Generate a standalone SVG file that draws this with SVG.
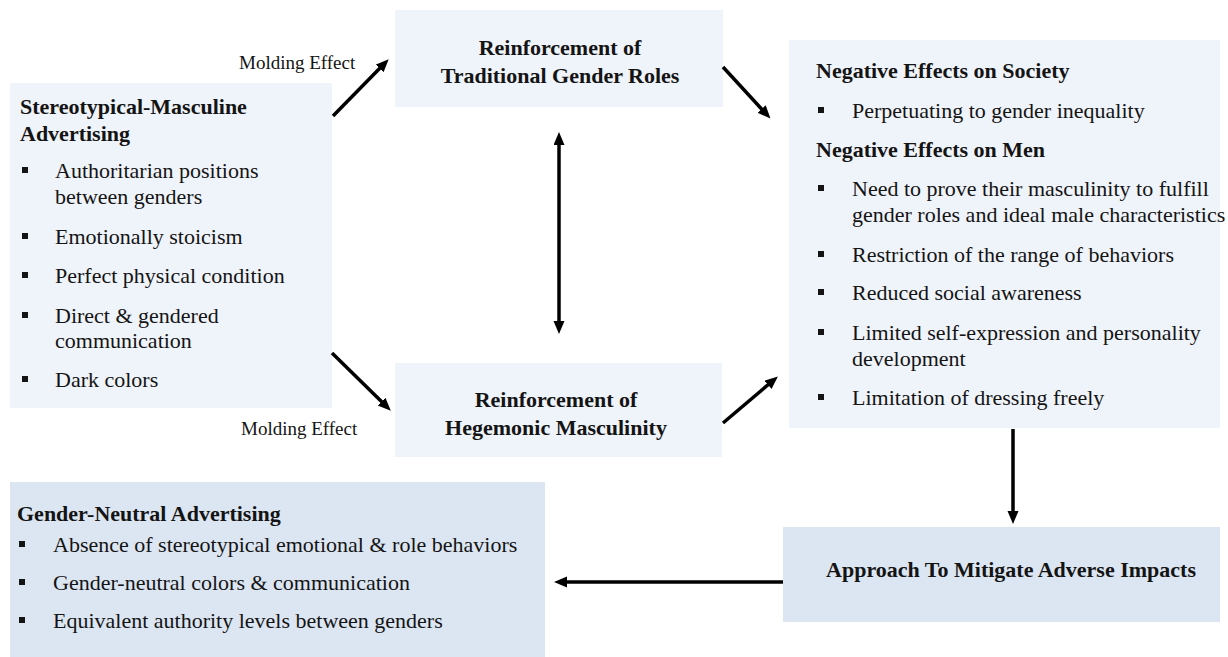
<svg xmlns="http://www.w3.org/2000/svg" width="1228" height="657" viewBox="0 0 1228 657">
  <style>
    .box-light { fill: #eff3fa; }
    .box-blue { fill: #dce6f2; }
    text { font-family: "Liberation Serif", "Times New Roman", serif; fill: #141414; }
    .t { font-size: 22px; }
    .b { font-size: 22px; font-weight: bold; }
    .c { text-anchor: middle; }
    .lbl { font-size: 19px; }
    .bullet { fill: #141414; }
    .arrow { stroke: #000; stroke-width: 3.5; fill: none; }
  </style>
  <defs>
    <marker id="head" markerUnits="userSpaceOnUse" markerWidth="14" markerHeight="12" refX="2" refY="5.5" orient="auto-start-reverse">
      <path d="M0,0 L13,5.5 L0,11 z" fill="#000"/>
    </marker>
    <rect id="sq" width="6" height="6" class="bullet"/>
  </defs>

  <rect width="1228" height="657" fill="#ffffff"/>

  <!-- Stereotypical-masculine advertising -->
  <g id="node-stereotypical">
    <rect class="box-light" x="10" y="83" width="322" height="325"/>
    <text class="b" x="20" y="114">Stereotypical-Masculine</text>
    <text class="b" x="20" y="141">Advertising</text>
    <use href="#sq" x="22" y="167"/>
    <text class="t" x="55" y="178">Authoritarian positions</text>
    <text class="t" x="55" y="204">between genders</text>
    <use href="#sq" x="22" y="233"/>
    <text class="t" x="55" y="244">Emotionally stoicism</text>
    <use href="#sq" x="22" y="272"/>
    <text class="t" x="55" y="283">Perfect physical condition</text>
    <use href="#sq" x="22" y="312"/>
    <text class="t" x="55" y="323">Direct &amp; gendered</text>
    <text class="t" x="55" y="348">communication</text>
    <use href="#sq" x="22" y="376"/>
    <text class="t" x="55" y="387">Dark colors</text>
  </g>

  <!-- Traditional gender roles -->
  <g id="node-traditional">
    <rect class="box-light" x="395" y="10" width="328" height="97"/>
    <text class="b c" x="560" y="55">Reinforcement of</text>
    <text class="b c" x="560" y="83">Traditional Gender Roles</text>
  </g>

  <!-- Hegemonic masculinity -->
  <g id="node-hegemonic">
    <rect class="box-light" x="395" y="363" width="327" height="94"/>
    <text class="b c" x="556" y="407">Reinforcement of</text>
    <text class="b c" x="556" y="435">Hegemonic Masculinity</text>
  </g>

  <!-- Negative effects -->
  <g id="node-negative-effects">
    <rect class="box-light" x="789" y="40" width="431" height="388"/>
    <text class="b" x="816" y="78">Negative Effects on Society</text>
    <use href="#sq" x="818" y="107"/>
    <text class="t" x="852" y="118">Perpetuating to gender inequality</text>
    <text class="b" x="816" y="157">Negative Effects on Men</text>
    <use href="#sq" x="818" y="185"/>
    <text class="t" x="852" y="196">Need to prove their masculinity to fulfill</text>
    <text class="t" x="852" y="222">gender roles and ideal male characteristics</text>
    <use href="#sq" x="818" y="251"/>
    <text class="t" x="852" y="262">Restriction of the range of behaviors</text>
    <use href="#sq" x="818" y="289"/>
    <text class="t" x="852" y="300">Reduced social awareness</text>
    <use href="#sq" x="818" y="329"/>
    <text class="t" x="852" y="340">Limited self-expression and personality</text>
    <text class="t" x="852" y="366">development</text>
    <use href="#sq" x="818" y="394"/>
    <text class="t" x="852" y="405">Limitation of dressing freely</text>
  </g>

  <!-- Mitigation approach -->
  <g id="node-approach">
    <rect class="box-blue" x="783" y="527" width="437" height="95"/>
    <text class="b c" x="1011" y="577">Approach To Mitigate Adverse Impacts</text>
  </g>

  <!-- Gender-neutral advertising -->
  <g id="node-gender-neutral">
    <rect class="box-blue" x="10" y="482" width="535" height="175"/>
    <text class="b" x="17" y="521">Gender-Neutral Advertising</text>
    <use href="#sq" x="19" y="541"/>
    <text class="t" x="53" y="552">Absence of stereotypical emotional &amp; role behaviors</text>
    <use href="#sq" x="19" y="579"/>
    <text class="t" x="53" y="590">Gender-neutral colors &amp; communication</text>
    <use href="#sq" x="19" y="617"/>
    <text class="t" x="53" y="628">Equivalent authority levels between genders</text>
  </g>

  <!-- Connectors -->
  <g id="connectors">
    <line class="arrow" x1="333" y1="116" x2="381" y2="67" marker-end="url(#head)"/>
    <line class="arrow" x1="332" y1="353" x2="383" y2="403" marker-end="url(#head)"/>
    <line class="arrow" x1="723" y1="67" x2="763" y2="110.5" marker-end="url(#head)"/>
    <line class="arrow" x1="723" y1="423" x2="769.5" y2="383.5" marker-end="url(#head)"/>
    <line class="arrow" x1="559" y1="143" x2="559" y2="323" marker-start="url(#head)" marker-end="url(#head)"/>
    <line class="arrow" x1="1013" y1="429" x2="1013" y2="513" marker-end="url(#head)"/>
    <line class="arrow" x1="783" y1="582" x2="565" y2="582" marker-end="url(#head)"/>
    <text class="lbl" x="239" y="69">Molding Effect</text>
    <text class="lbl" x="241" y="435">Molding Effect</text>
  </g>
</svg>
